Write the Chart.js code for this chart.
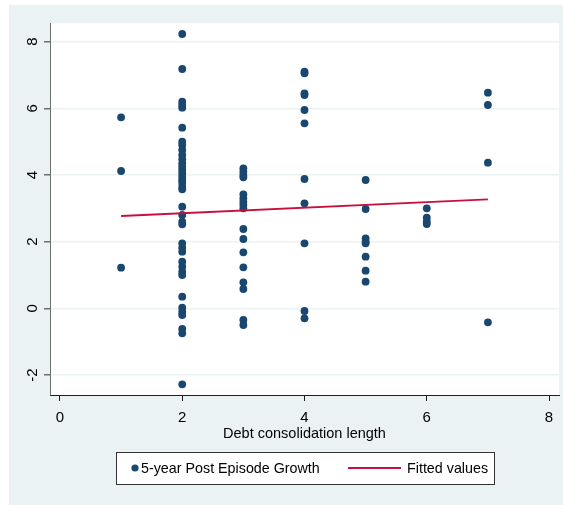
<!doctype html>
<html lang="en">
<head>
<meta charset="utf-8">
<title>Debt consolidation length and 5-year growth</title>
<script src="https://cdn.jsdelivr.net/npm/chart.js@4.4.0/dist/chart.umd.min.js"></script>
<style>
  body { margin: 0; background: #fff; }
</style>
</head>
<body>
<canvas id="growthChart" width="563" height="505"></canvas>
<script>
// tick labels
var xTicks = [0, 2, 4, 6, 8];
var yTicks = [-2, 0, 2, 4, 6, 8];

// debt consolidation length (years) and the growth values seen at each length
var lengths = [1, 2, 3, 4, 5, 6, 7];
var growth1 = [5.73, 4.12, 1.22];
var growth2 = [8.23, 7.18, 6.2, 6.1, 6.02, 5.42, 5.0, 4.9, 4.75, 4.6, 4.47, 4.35, 4.25, 4.15, 4.05, 3.95,
               3.85, 3.77, 3.65, 3.57, 3.05, 2.8, 2.6, 2.52, 1.95, 1.82, 1.7, 1.4, 1.25, 1.1, 1.0,
               0.35, 0.02, -0.1, -0.2, -0.62, -0.75, -2.28];
var growth3 = [4.2, 4.1, 4.0, 3.93, 3.42, 3.3, 3.2, 3.1, 3.0, 2.38, 2.08, 1.68, 1.23, 0.78, 0.58, -0.35, -0.5];
var growth4 = [7.1, 7.05, 6.45, 6.4, 5.95, 5.55, 3.88, 3.15, 1.95, -0.08, -0.3];
var growth5 = [3.85, 2.98, 2.1, 2.0, 1.95, 1.55, 1.13, 0.8];
var growth6 = [3.0, 2.72, 2.6, 2.53];
var growth7 = [6.47, 6.1, 4.37, -0.42];
var growthByLength = [growth1, growth2, growth3, growth4, growth5, growth6, growth7];

// linear fit
var fittedLength = [1, 7];
var fittedValues = [2.77, 3.27];

var scatterPoints = [];
lengths.forEach(function (len, i) {
    growthByLength[i].forEach(function (g) {
        scatterPoints.push({ x: len, y: g });
    });
});
var fitPoints = fittedLength.map(function (len, i) {
    return { x: len, y: fittedValues[i] };
});

var FONT = "'Liberation Sans', Arial, sans-serif";
var NAVY = '#1a476f';
var RED = '#c8103c';
var PANEL = '#eaf2f3';

// stata style background: light panel with white plot region
var panelBackground = {
    id: 'panelBackground',
    beforeDraw: function (chart) {
        var ctx = chart.ctx, a = chart.chartArea;
        ctx.save();
        ctx.fillStyle = '#fff';
        ctx.fillRect(0, 0, chart.width, chart.height);
        ctx.fillStyle = PANEL;
        ctx.fillRect(9, 5, chart.width - 9, chart.height - 5);
        ctx.fillStyle = '#fff';
        ctx.fillRect(a.left, a.top, a.right - a.left, a.bottom - a.top);
        ctx.restore();
    }
};

// boxed legend underneath the axis title
var boxedLegend = {
    id: 'boxedLegend',
    afterDraw: function (chart) {
        var ctx = chart.ctx;
        var ds = chart.data.datasets;
        var top = 452, h = 32, cy = top + h / 2;
        ctx.save();
        ctx.fillStyle = '#fff';
        ctx.fillRect(116.5, top, 378, h);
        ctx.strokeStyle = '#333';
        ctx.lineWidth = 1;
        ctx.strokeRect(116.5, top + 0.5, 378, h);

        ctx.font = '14.3px ' + FONT;
        ctx.textBaseline = 'middle';

        // scatter marker
        ctx.fillStyle = ds[1].backgroundColor;
        ctx.beginPath();
        ctx.arc(135, cy, 3.6, 0, Math.PI * 2);
        ctx.fill();
        ctx.fillStyle = '#000';
        ctx.fillText(ds[1].label, 141, cy + 1);

        // line marker
        ctx.strokeStyle = ds[0].borderColor;
        ctx.lineWidth = 1.8;
        ctx.beginPath();
        ctx.moveTo(348, cy);
        ctx.lineTo(401, cy);
        ctx.stroke();
        ctx.fillText(ds[0].label, 407, cy + 1);
        ctx.restore();
    }
};

var chart = new Chart(document.getElementById('growthChart'), {
    type: 'scatter',
    data: {
        datasets: [{
            type: 'line',
            label: 'Fitted values',
            data: fitPoints,
            borderColor: RED,
            borderWidth: 1.8,
            pointRadius: 0,
            fill: false,
            order: 0
        }, {
            label: '5-year Post Episode Growth',
            data: scatterPoints,
            backgroundColor: NAVY,
            borderWidth: 0,
            pointRadius: 3.9,
            order: 1
        }]
    },
    options: {
        responsive: false,
        animation: false,
        layout: { padding: { left: 9, right: 3, top: 23, bottom: 62 } },
        plugins: {
            legend: { display: false },
            tooltip: { enabled: false }
        },
        scales: {
            x: {
                type: 'linear',
                min: -0.163,
                max: 8.163,
                afterBuildTicks: function (scale) {
                    scale.ticks = xTicks.map(function (v) { return { value: v }; });
                },
                afterFit: function (scale) { scale.height = 48; },
                border: { color: '#1e1e1e', width: 1 },
                grid: { drawOnChartArea: false, tickLength: 6, tickColor: '#1e1e1e' },
                ticks: { color: '#000', padding: 8, font: { family: FONT, size: 15 } },
                title: {
                    display: true,
                    text: 'Debt consolidation length',
                    color: '#000',
                    padding: { top: 0, bottom: 0 },
                    font: { family: FONT, size: 14.5 }
                }
            },
            y: {
                type: 'linear',
                min: -2.6,
                max: 8.56,
                afterBuildTicks: function (scale) {
                    scale.ticks = yTicks.map(function (v) { return { value: v }; });
                },
                afterFit: function (scale) { scale.width = 41; },
                border: { color: '#6e6e6e', width: 1 },
                grid: { color: PANEL, lineWidth: 1.5, tickLength: 6, tickColor: '#6e6e6e' },
                ticks: {
                    color: '#000',
                    minRotation: 90,
                    maxRotation: 90,
                    crossAlign: 'center',
                    padding: 4,
                    font: { family: FONT, size: 15 }
                }
            }
        }
    },
    plugins: [panelBackground, boxedLegend]
});
</script>
</body>
</html>
